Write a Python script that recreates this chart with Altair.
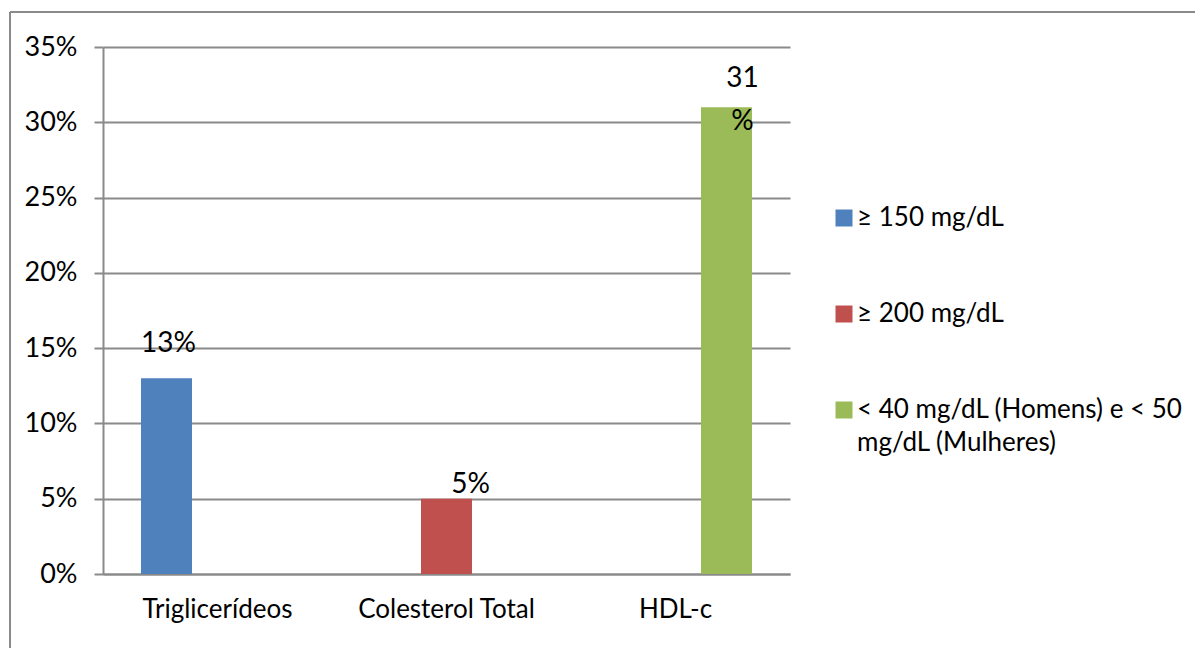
import altair as alt
import pandas as pd

categories = ["Triglicerídeos", "Colesterol Total", "HDL-c"]
series = ["≥ 150 mg/dL", "≥ 200 mg/dL", "< 40 mg/dL (Homens) e < 50 mg/dL (Mulheres)"]
values = [13, 5, 31]
data_labels = ["13%", "5%", "31\n%"]
colors = ["#4F81BD", "#C0504D", "#9BBB59"]
y_ticks = [0, 5, 10, 15, 20, 25, 30, 35]
legend_wrapped = ["< 40 mg/dL (Homens) e < 50", "mg/dL (Mulheres)"]

df = pd.DataFrame({"categoria": categories, "serie": series, "valor": values, "rotulo": data_labels})

FONT = "Lato"
GRAY = "#8a8a8a"
W, H = 687, 527

x_enc = alt.X(
    "categoria:N", sort=categories,
    scale=alt.Scale(paddingInner=0, paddingOuter=0),
    axis=alt.Axis(title=None, labelAngle=0, ticks=False, domainColor=GRAY, domainWidth=2,
                  labelFontSize=26, labelPadding=22, labelColor="black", labelFont=FONT),
)
xoff = alt.XOffset("serie:N", sort=series,
                   scale=alt.Scale(domain=series, paddingInner=0, paddingOuter=0.745))
y_enc = alt.Y(
    "valor:Q", scale=alt.Scale(domain=[0, 35], nice=False),
    axis=alt.Axis(values=y_ticks, labelExpr="datum.value + '%'", title=None, grid=True,
                  gridColor=GRAY, gridWidth=2, domainColor=GRAY, domainWidth=2,
                  tickColor=GRAY, tickWidth=2, tickSize=9, labelPadding=17,
                  labelFontSize=27, labelColor="black", labelFont=FONT),
)

label_expr = ("datum.label == '" + series[2] + "' ? ['" + legend_wrapped[0] + "', '"
              + legend_wrapped[1] + "'] : datum.label")

color_enc = alt.Color(
    "serie:N", sort=series, scale=alt.Scale(domain=series, range=colors),
    legend=alt.Legend(title=None, orient="none", legendX=728, legendY=158,
                      symbolType="square", symbolSize=289, symbolStrokeWidth=0,
                      labelFontSize=26, labelFont=FONT, labelColor="black",
                      labelOffset=0, rowPadding=70, labelLimit=400, labelExpr=label_expr,
                      padding=0, offset=0),
)

base = alt.Chart(df)
bars = base.mark_bar(size=51).encode(x=x_enc, xOffset=xoff, y=y_enc, color=color_enc)

label_offsets = [(2, -26), (24, -6), (16, -20)]
texts = []
for s, (ddx, ddy) in zip(series, label_offsets):
    texts.append(
        base.transform_filter(alt.datum.serie == s)
        .mark_text(dx=ddx, dy=ddy, baseline="alphabetic", align="center", fontSize=28,
                   font=FONT, color="black", lineBreak="\n", lineHeight=43)
        .encode(x=x_enc, xOffset=xoff, y=y_enc, text="rotulo:N")
    )

frame_df = pd.DataFrame({"z": [0]})
frame_left = alt.Chart(frame_df).mark_rule(color=GRAY, strokeWidth=2).encode(
    x=alt.value(-93), y=alt.value(-35), y2=alt.value(700))
frame_top = alt.Chart(frame_df).mark_rule(color=GRAY, strokeWidth=2).encode(
    x=alt.value(-93), x2=alt.value(1200), y=alt.value(-35))

chart = alt.layer(bars, *texts, frame_left, frame_top).properties(
    width=W, height=H,
    autosize=alt.AutoSizeParams(type="none"),
    padding={"left": 103, "top": 47, "right": 1195 - 103 - W, "bottom": 648 - 47 - H},
).configure(
    background="white",
    style={"guide-label": {"lineHeight": 33}},
).configure_view(stroke=None)

chart.save("out.html", embed_options={"renderer": "svg", "actions": False})
